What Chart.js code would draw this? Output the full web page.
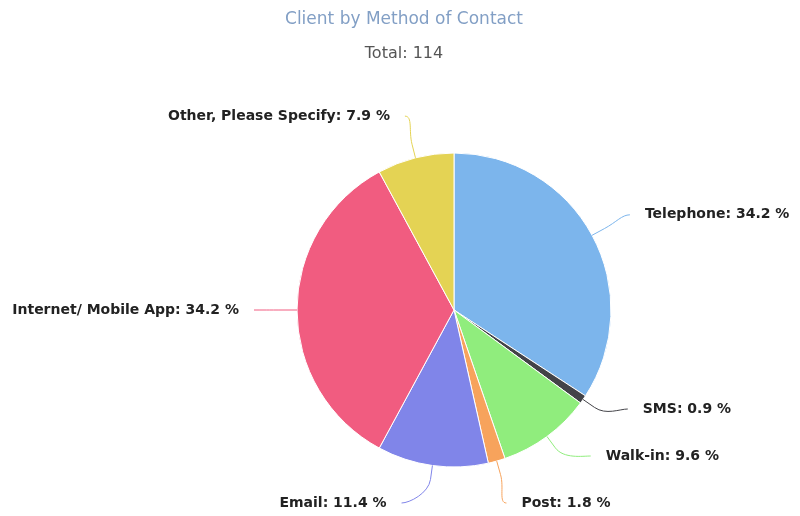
<!DOCTYPE html>
<html>
<head>
<meta charset="utf-8">
<script src="https://cdn.jsdelivr.net/npm/chart.js@4/dist/chart.umd.min.js"></script>
<style>
  html, body { margin: 0; padding: 0; background: #fff; }
  #wrap { width: 800px; height: 516px; position: relative; }
</style>
</head>
<body>
<div id="wrap"><canvas id="graficaContacto"></canvas></div>
<script>
const titulo = "Client by Method of Contact";
const categorias = ["Telephone", "SMS", "Walk-in", "Post", "Email", "Internet/ Mobile App", "Other, Please Specify"];
const clientes = [39, 1, 11, 2, 13, 39, 9];
const colores = ["#7cb5ec", "#434348", "#90ed7d", "#f7a35c", "#8085e9", "#f15c80", "#e4d354"];

const total = clientes.reduce((a, b) => a + b, 0);

// titles drawn by hand so they sit where the original puts them
const headerPlugin = {
  id: "header",
  afterDraw(c) {
    const ctx = c.ctx;
    ctx.save();
    ctx.textAlign = "center";
    ctx.textBaseline = "middle";
    ctx.fillStyle = "#829fc5";
    ctx.font = "17px 'DejaVu Sans'";
    ctx.fillText(titulo, 404, 20);
    ctx.fillStyle = "#555";
    ctx.font = "16px 'DejaVu Sans'";
    ctx.fillText(`Total: ${total}`, 404, 54);
    ctx.restore();
  }
};

// outside labels with soft connectors, roughly like Highcharts does it
const pieLabels = {
  id: "pieLabels",
  afterDatasetsDraw(c, args, o) {
    const ctx = c.ctx;
    const meta = c.getDatasetMeta(0);
    const ds = c.data.datasets[0];
    const items = meta.data.map((arc, i) => {
      const p = arc.getProps(["x", "y", "startAngle", "endAngle", "outerRadius"], true);
      const mid = (p.startAngle + p.endAngle) / 2;
      const ux = Math.cos(mid), uy = Math.sin(mid);
      return { i, cx: p.x, cy: p.y, r: p.outerRadius, ux, uy, side: ux >= 0 ? 1 : -1, y: p.y + uy * o.dist };
    });

    [1, -1].forEach(side => {
      const list = items.filter(it => it.side === side).sort((a, b) => a.y - b.y);
      if (!list.length) return;
      const cy = list[0].cy;
      for (let k = 1; k < list.length; k++) list[k].y = Math.max(list[k].y, list[k - 1].y + o.gap);
      const maxY = cy + o.maxDy;
      if (list[list.length - 1].y > maxY) {
        list[list.length - 1].y = maxY;
        for (let k = list.length - 2; k >= 0; k--) list[k].y = Math.min(list[k].y, list[k + 1].y - o.gap);
      }
    });

    ctx.save();
    ctx.font = o.font;
    ctx.textBaseline = "middle";
    items.forEach(it => {
      const dy = it.y - it.cy;
      const dx = Math.sqrt(Math.max(o.dist * o.dist - dy * dy, 0));
      const ax = it.cx + it.side * dx;
      const ex = it.cx + it.ux * it.r, ey = it.cy + it.uy * it.r;
      const bx = it.cx + it.ux * (it.r + o.bend), by = it.cy + it.uy * (it.r + o.bend);

      ctx.strokeStyle = ds.backgroundColor[it.i];
      ctx.lineWidth = 1;
      ctx.beginPath();
      ctx.moveTo(ax, it.y);
      ctx.bezierCurveTo(ax - it.side * 8, it.y, 2 * bx - ex, 2 * by - ey, bx, by);
      ctx.lineTo(ex, ey);
      ctx.stroke();

      const pct = (ds.data[it.i] / total * 100).toFixed(1);
      ctx.fillStyle = "#222";
      ctx.textAlign = it.side > 0 ? "left" : "right";
      ctx.fillText(`${c.data.labels[it.i]}: ${pct} %`, ax + it.side * o.pad, it.y);
    });
    ctx.restore();
  }
};

new Chart(document.getElementById("graficaContacto"), {
  type: "pie",
  data: {
    labels: categorias,
    datasets: [{
      data: clientes,
      backgroundColor: colores,
      borderColor: "#fff",
      borderWidth: 1,
      hoverOffset: 0
    }]
  },
  options: {
    responsive: true,
    maintainAspectRatio: false,
    animation: false,
    radius: 157,
    layout: { padding: { left: 284, right: 176, top: 140, bottom: 36 } },
    plugins: {
      legend: { display: false },
      tooltip: { enabled: false },
      pieLabels: { dist: 200, gap: 47, maxDy: 193, bend: 14, pad: 15, font: "bold 14px 'DejaVu Sans'" }
    }
  },
  plugins: [headerPlugin, pieLabels]
});
</script>
</body>
</html>
